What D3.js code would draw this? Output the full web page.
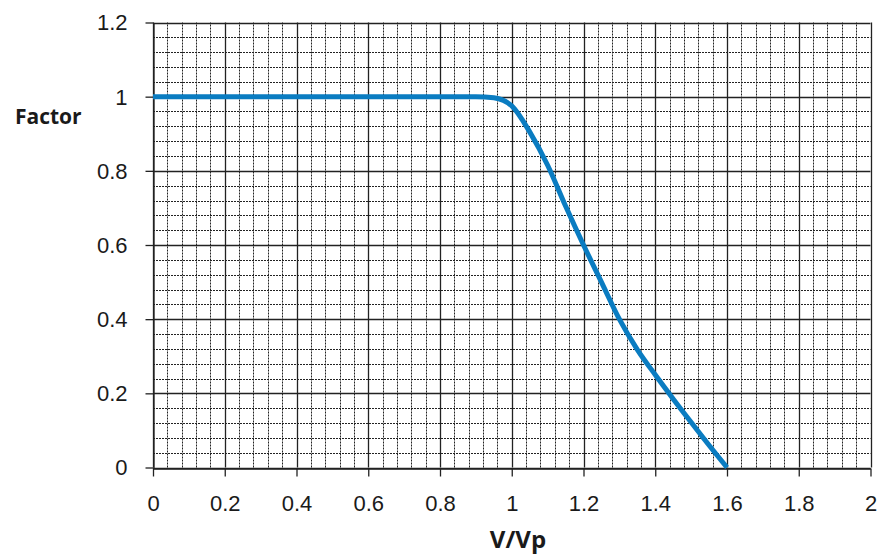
<!DOCTYPE html>
<html>
<head>
<meta charset="utf-8">
<script src="https://cdn.jsdelivr.net/npm/d3@7"></script>
<style>
  body { margin: 0; background: #fff; }
  svg { display: block; font-family: "Open Sans", "Liberation Sans", sans-serif; }
</style>
</head>
<body>
<div id="chart"></div>
<script>
// curve
const ratio = [0, 0.9, 0.95, 1.0, 1.05, 1.1, 1.15, 1.2, 1.25, 1.3, 1.35, 1.4, 1.45, 1.5, 1.55, 1.6];
const factor = [1, 1, 0.997, 0.975, 0.905, 0.815, 0.705, 0.6, 0.5, 0.4, 0.318, 0.25, 0.185, 0.122, 0.06, 0];

const xTicks = [0, 0.2, 0.4, 0.6, 0.8, 1, 1.2, 1.4, 1.6, 1.8, 2];
const yTicks = [0, 0.2, 0.4, 0.6, 0.8, 1, 1.2];
const minorStep = 0.04;

const W = 878, H = 560;

const svg = d3.select("#chart").append("svg")
    .attr("width", W)
    .attr("height", H);

const x = d3.scaleLinear().domain([0, 2]).range([153, 870.5]);
const y = d3.scaleLinear().domain([0, 1.2]).range([467.5, 22.5]);

const px = v => Math.round(v) + 0.5;
const isMajor = v => Math.abs(v / 0.2 - Math.round(v / 0.2)) < 1e-6;

// minor grid (dashed)
const minorX = d3.range(0, 2 + 1e-9, minorStep).filter(v => !isMajor(v));
const minorY = d3.range(0, 1.2 + 1e-9, minorStep).filter(v => !isMajor(v));

const grid = svg.append("g");
grid.selectAll(".vminor")
    .data(minorX)
    .enter()
    .append("line")
    .attr("x1", d => px(x(d)))
    .attr("x2", d => px(x(d)))
    .attr("y1", y(0))
    .attr("y2", y(1.2))
    .attr("stroke", "#222")
    .attr("stroke-width", 1)
    .attr("stroke-dasharray", "2,1");

grid.selectAll(".hminor")
    .data(minorY)
    .enter()
    .append("line")
    .attr("x1", x(0))
    .attr("x2", x(2))
    .attr("y1", d => px(y(d)))
    .attr("y2", d => px(y(d)))
    .attr("stroke", "#222")
    .attr("stroke-width", 1)
    .attr("stroke-dasharray", "2,1");

// major grid (solid)
grid.selectAll(".vmajor")
    .data(xTicks)
    .enter()
    .append("line")
    .attr("x1", d => px(x(d)))
    .attr("x2", d => px(x(d)))
    .attr("y1", y(0))
    .attr("y2", y(1.2))
    .attr("stroke", "#222")
    .attr("stroke-width", 1.3);

grid.selectAll(".hmajor")
    .data(yTicks)
    .enter()
    .append("line")
    .attr("x1", x(0))
    .attr("x2", x(2))
    .attr("y1", d => px(y(d)))
    .attr("y2", d => px(y(d)))
    .attr("stroke", "#222")
    .attr("stroke-width", 1.3);

// axes
const xAxis = svg.append("g")
    .attr("transform", `translate(0,${px(y(0))})`)
    .call(d3.axisBottom(x).tickValues(xTicks).tickSize(8).tickSizeOuter(0).tickFormat(d3.format("")));
const yAxis = svg.append("g")
    .attr("transform", `translate(${px(x(0))},0)`)
    .call(d3.axisLeft(y).tickValues(yTicks).tickSize(8).tickSizeOuter(0).tickFormat(d3.format("")));

[xAxis, yAxis].forEach(a => {
    a.select(".domain").attr("stroke", "#222").attr("stroke-width", 1.3);
    a.selectAll(".tick line").attr("stroke", "#222").attr("stroke-width", 1.3);
    a.selectAll("text")
        .attr("fill", "#1a1a1a")
        .style("font-size", "22px");
});
xAxis.selectAll("text").attr("y", 42).attr("dy", "0");
yAxis.selectAll("text").attr("x", -26).attr("dy", "0.34em");

// curve
const pts = ratio.map((r, i) => [r, factor[i]]);
const line = d3.line()
    .x(d => x(d[0]))
    .y(d => y(d[1]))
    .curve(d3.curveMonotoneX);

svg.append("path")
    .datum(pts)
    .attr("fill", "none")
    .attr("stroke", "#0a7cc1")
    .attr("stroke-width", 5)
    .attr("stroke-linejoin", "round")
    .attr("d", line);

// axis titles
svg.append("text")
    .attr("x", 15)
    .attr("y", 124)
    .style("font-size", "21px")
    .style("font-weight", "bold")
    .attr("fill", "#1a1a1a")
    .text("Factor");

svg.append("text")
    .attr("x", 518)
    .attr("y", 548)
    .attr("text-anchor", "middle")
    .style("font-size", "24px")
    .style("font-weight", "bold")
    .attr("fill", "#1a1a1a")
    .text("V/Vp");
</script>
</body>
</html>
